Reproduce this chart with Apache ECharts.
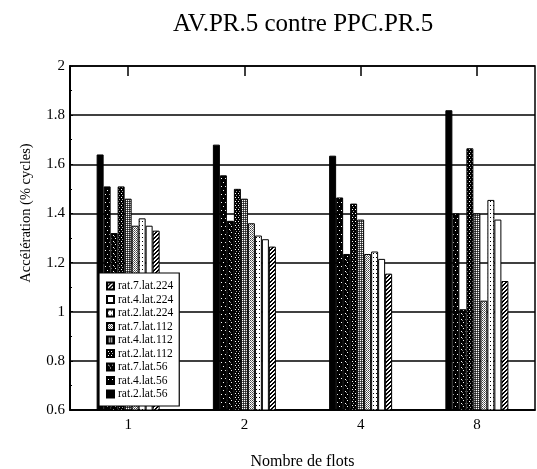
<!DOCTYPE html>
<html>
<head>
<meta charset="utf-8">
<script src="https://cdn.jsdelivr.net/npm/echarts@6/dist/echarts.min.js"></script>
<style>html,body{margin:0;padding:0;background:#fff;}#c{width:537px;height:469px;}</style>
</head>
<body>
<div id="c"></div>
<script>
const categories = ['1', '2', '4', '8'];
const seriesNames = ['rat.2.lat.56', 'rat.4.lat.56', 'rat.7.lat.56', 'rat.2.lat.112', 'rat.4.lat.112', 'rat.7.lat.112', 'rat.2.lat.224', 'rat.4.lat.224', 'rat.7.lat.224'];
const rat2lat56  = [1.64, 1.68, 1.635, 1.82];
const rat4lat56  = [1.51, 1.555, 1.465, 1.40];
const rat7lat56  = [1.32, 1.37, 1.235, 1.01];
const rat2lat112 = [1.51, 1.50, 1.44, 1.665];
const rat4lat112 = [1.46, 1.46, 1.375, 1.40];
const rat7lat112 = [1.35, 1.36, 1.235, 1.045];
const rat2lat224 = [1.38, 1.31, 1.245, 1.455];
const rat4lat224 = [1.35, 1.295, 1.215, 1.375];
const rat7lat224 = [1.33, 1.265, 1.155, 1.125];
const seriesValues = [rat2lat56, rat4lat56, rat7lat56, rat2lat112, rat4lat112, rat7lat112, rat2lat224, rat4lat224, rat7lat224];

function pattern(kind) {
  const c = document.createElement('canvas');
  const ctx = c.getContext('2d');
  function px(x, y, col) { ctx.fillStyle = col; ctx.fillRect(x, y, 1, 1); }
  if (kind === 0) { c.width = c.height = 4; ctx.fillStyle = '#000'; ctx.fillRect(0,0,4,4); }
  else if (kind === 1) { c.width = 4; c.height = 8; ctx.fillStyle = '#000'; ctx.fillRect(0,0,4,8); px(1,2,'#fff'); px(3,6,'#fff'); }
  else if (kind === 2) { c.width = 4; c.height = 6; ctx.fillStyle = '#000'; ctx.fillRect(0,0,4,6); px(1,1,'#fff'); px(3,4,'#fff'); px(2,2,'#888'); }
  else if (kind === 3) { c.width = 3; c.height = 4; ctx.fillStyle = '#000'; ctx.fillRect(0,0,3,4); px(1,1,'#fff'); px(2,3,'#aaa'); }
  else if (kind === 4) { c.width = 2; c.height = 2; ctx.fillStyle = '#555'; ctx.fillRect(0,0,2,2); px(0,0,'#fff'); px(1,1,'#222'); }
  else if (kind === 5) { c.width = 2; c.height = 2; ctx.fillStyle = '#fff'; ctx.fillRect(0,0,2,2); px(0,0,'#444'); px(1,1,'#777'); }
  else if (kind === 6) { c.width = 3; c.height = 4; ctx.fillStyle = '#fff'; ctx.fillRect(0,0,3,4); px(1,1,'#000'); }
  else if (kind === 7) { c.width = c.height = 4; ctx.fillStyle = '#fff'; ctx.fillRect(0,0,4,4); }
  else if (kind === 8) { c.width = c.height = 4; ctx.fillStyle = '#fff'; ctx.fillRect(0,0,4,4);
    ctx.fillStyle = '#000'; for (let i = 0; i < 4; i++) { ctx.fillRect((3 - i + 4) % 4, i, 2, 1); if ((3 - i) + 2 > 4) ctx.fillRect(0, i, (3 - i) + 2 - 4, 1); } }
  return { image: c, repeat: 'repeat' };
}

const chart = echarts.init(document.getElementById('c'), null, { renderer: 'canvas' });
const font = 'Liberation Serif';
const series = seriesNames.map((n, i) => ({
  name: n,
  type: 'bar',
  data: seriesValues[i],
  barWidth: 7,
  barGap: '0%',
  itemStyle: { color: pattern(i), borderColor: '#000', borderWidth: 1 },
  emphasis: { disabled: true },
  xAxisIndex: 0
}));

chart.setOption({
  animation: false,
  backgroundColor: '#fff',
  title: {
    text: 'AV.PR.5 contre PPC.PR.5',
    left: 168, top: 7,
    textStyle: { fontFamily: font, fontSize: 25, fontWeight: 'normal', color: '#000' }
  },
  grid: { left: 70, right: 2, top: 66, bottom: 59, outerBoundsMode: 'none', containLabel: false, show: true, borderColor: '#000', borderWidth: 1.5, backgroundColor: 'transparent' },
  legend: {
    data: seriesNames.slice().reverse(),
    orient: 'vertical',
    left: 99, top: 273,
    padding: [7, 6, 6, 7],
    backgroundColor: '#fff',
    borderColor: '#000',
    borderWidth: 1.2,
    itemWidth: 7, itemHeight: 7, itemGap: 1.5,
    icon: 'rect',
    selectedMode: false,
    textStyle: { fontFamily: font, fontSize: 11.5, color: '#000', lineHeight: 12, padding: [0, 0, 0, -1] }
  },
  xAxis: [{
    type: 'category',
    data: categories,
    name: 'Nombre de flots',
    nameLocation: 'middle',
    nameGap: 44,
    nameTextStyle: { fontFamily: font, fontSize: 16, color: '#000' },
    axisLine: { show: true, lineStyle: { color: '#000', width: 1.5 } },
    axisTick: { show: false },
    axisLabel: { fontFamily: font, fontSize: 15, color: '#000', margin: 8 }
  }, {
    type: 'category',
    data: categories,
    position: 'top',
    axisLine: { show: false },
    axisTick: { show: true, inside: true, alignWithLabel: true, length: 10, lineStyle: { color: '#000', width: 1.5 } },
    axisLabel: { show: false }
  }],
  yAxis: {
    type: 'value',
    min: 0.6, max: 2, interval: 0.2,
    axisLine: { show: true, lineStyle: { color: '#000', width: 2 } },
    axisTick: { show: true, inside: true, length: 3, lineStyle: { color: '#000' } },
    minorTick: { show: true, splitNumber: 2, length: 2, lineStyle: { color: '#000' } },
    splitLine: { show: true, lineStyle: { color: '#000', width: 1.5 } },
    axisLabel: { fontFamily: font, fontSize: 15, color: '#000', margin: 5 }
  },
  graphic: [{
    type: 'text',
    x: 26, y: 213,
    rotation: Math.PI / 2,
    style: { text: 'Accélération (% cycles)', fontFamily: font, fontSize: 14.5, fill: '#000', align: 'center', verticalAlign: 'middle' }
  }],
  series: series
});
</script>
</body>
</html>
